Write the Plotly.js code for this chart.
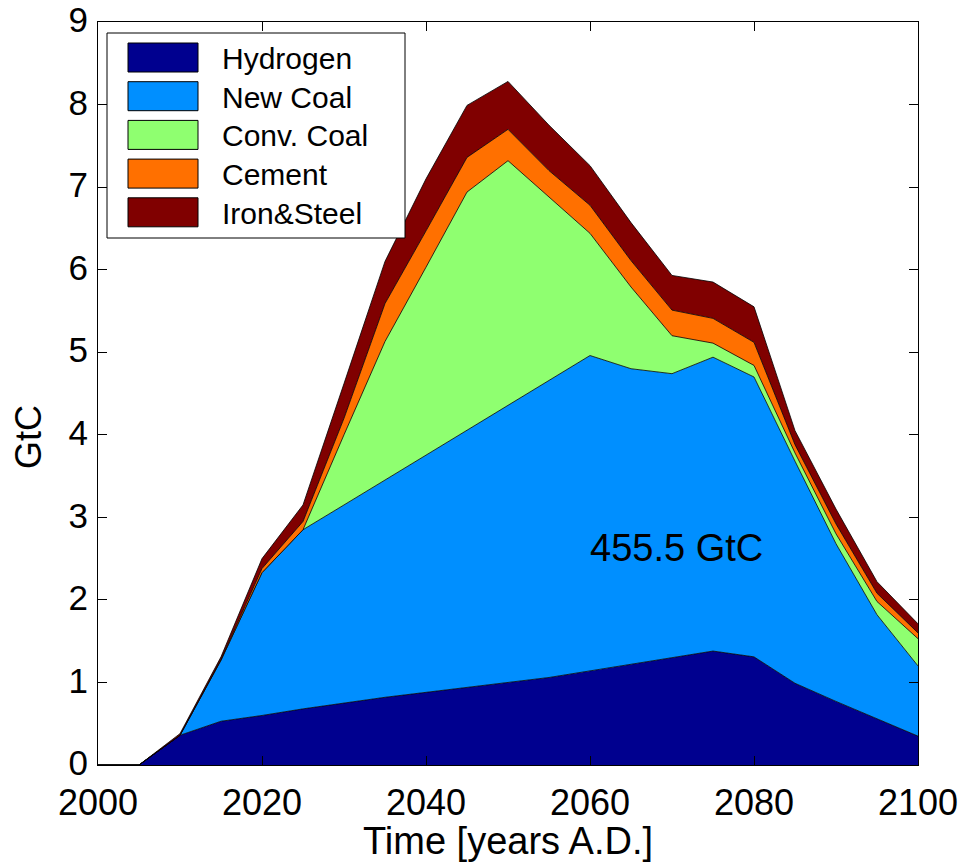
<!DOCTYPE html>
<html>
<head>
<meta charset="utf-8">
<script src="https://cdn.plot.ly/plotly-3.0.1.min.js"></script>
<style>
  html, body { margin: 0; padding: 0; background: #ffffff; }
  #chart { width: 962px; height: 862px; }
</style>
</head>
<body>
<div id="chart"></div>
<script>
// ---- Data (GtC per year, stacked layers) ----
const years = [2000, 2005, 2010, 2015, 2020, 2025, 2030, 2035, 2040, 2045, 2050,
               2055, 2060, 2065, 2070, 2075, 2080, 2085, 2090, 2095, 2100];
const seriesNames = ["Hydrogen", "New Coal", "Conv. Coal", "Cement", "Iron&Steel"];
const hydrogen  = [0, 0, 0.36, 0.53, 0.60, 0.68, 0.75, 0.82, 0.88, 0.94, 1.00,
                   1.06, 1.14, 1.22, 1.30, 1.38, 1.31, 0.99, 0.77, 0.56, 0.35];
const newCoal   = [0, 0, 0, 0.74, 1.73, 2.17, 2.40, 2.63, 2.87, 3.11, 3.36,
                   3.60, 3.82, 3.58, 3.44, 3.56, 3.39, 2.69, 1.91, 1.26, 0.85];
const convCoal  = [0, 0, 0, 0, 0, 0, 0.85, 1.68, 2.28, 2.89, 2.96,
                   2.22, 1.48, 0.99, 0.46, 0.17, 0.14, 0.10, 0.12, 0.16, 0.33];
const cement    = [0, 0, 0, 0.01, 0.05, 0.10, 0.20, 0.46, 0.44, 0.42, 0.38,
                   0.32, 0.34, 0.32, 0.31, 0.30, 0.28, 0.10, 0.12, 0.10, 0.07];
const ironSteel = [0, 0, 0.02, 0.03, 0.12, 0.20, 0.42, 0.51, 0.63, 0.63, 0.58,
                   0.55, 0.48, 0.46, 0.42, 0.44, 0.43, 0.17, 0.18, 0.14, 0.11];
const xTicks = [2000, 2020, 2040, 2060, 2080, 2100];
const yTicks = [0, 1, 2, 3, 4, 5, 6, 7, 8, 9];
const xTitle = "Time [years A.D.]";
const yTitle = "GtC";
const totalLabel = "455.5 GtC";

const colors = ["#00008F", "#008FFF", "#8FFF70", "#FF7000", "#800000"];
const layers = [hydrogen, newCoal, convCoal, cement, ironSteel];

const FONT = "Liberation Sans, Arial, Helvetica, sans-serif";

const traces = layers.map((vals, i) => ({
  type: "scatter",
  mode: "lines",
  x: years,
  y: vals,
  name: seriesNames[i],
  stackgroup: "one",
  fillcolor: colors[i],
  line: { color: "#000000", width: 0.8 },
  showlegend: false,
  hoverinfo: "x+y+name"
}));

// ---- Custom legend (boxed, MATLAB style) ----
const plotL = 98, plotR = 918, plotT = 22, plotB = 765;
const px = v => (v - plotL) / (plotR - plotL);
const py = v => (plotB - v) / (plotB - plotT);

const shapes = [{
  type: "rect", xref: "paper", yref: "paper", layer: "above",
  x0: px(107), x1: px(405), y0: py(238), y1: py(33),
  fillcolor: "#ffffff", line: { color: "#000000", width: 1 }
}];
const annotations = [];
const rowStart = 57.5, rowStep = 38.7, swH = 29;
seriesNames.forEach((nm, i) => {
  const cy = rowStart + i * rowStep;
  shapes.push({
    type: "rect", xref: "paper", yref: "paper", layer: "above",
    x0: px(128), x1: px(198), y0: py(cy + swH / 2), y1: py(cy - swH / 2),
    fillcolor: colors[i], line: { color: "#000000", width: 1 }
  });
  annotations.push({
    xref: "paper", yref: "paper", x: px(220), y: py(cy + 1),
    xanchor: "left", yanchor: "middle", showarrow: false,
    text: nm, font: { family: FONT, size: 30, color: "#000000" }
  });
});
annotations.push({
  xref: "x", yref: "y", x: 2070.5, y: 2.63, showarrow: false,
  xanchor: "center", yanchor: "middle",
  text: totalLabel, font: { family: FONT, size: 38, color: "#000000" }
});
// y-axis label placed as in the reference (slightly below the axis centre)
annotations.push({
  xref: "paper", yref: "paper", x: px(29), y: py(437), showarrow: false,
  xanchor: "center", yanchor: "middle", textangle: -90,
  text: yTitle, font: { family: FONT, size: 36, color: "#000000" }
});

const layout = {
  width: 962, height: 862,
  margin: { l: plotL, r: 962 - plotR, t: plotT, b: 862 - plotB },
  paper_bgcolor: "#ffffff", plot_bgcolor: "#ffffff",
  showlegend: false,
  font: { family: FONT, size: 36, color: "#000000" },
  xaxis: {
    range: [2000, 2100], tickvals: xTicks, ticktext: xTicks.map(String),
    ticks: "inside", ticklen: 9, tickwidth: 1, tickcolor: "#000000",
    showline: true, linecolor: "#000000", linewidth: 1, mirror: "ticks",
    showgrid: false, zeroline: false,
    tickfont: { family: FONT, size: 36 },
    ticklabelstandoff: 6,
    title: { text: xTitle, font: { family: FONT, size: 38 }, standoff: 2 }
  },
  yaxis: {
    range: [0, 9], tickvals: yTicks, ticktext: yTicks.map(String),
    ticks: "inside", ticklen: 9, tickwidth: 1, tickcolor: "#000000",
    showline: true, linecolor: "#000000", linewidth: 1, mirror: "ticks",
    showgrid: false, zeroline: false,
    tickfont: { family: FONT, size: 35 },
    ticklabelstandoff: 2,
    ticklabelshift: -2,
    ticklabeloverflow: "allow"
  },
  shapes: shapes,
  annotations: annotations
};

Plotly.newPlot("chart", traces, layout, { displayModeBar: false, staticPlot: true });
</script>
</body>
</html>
